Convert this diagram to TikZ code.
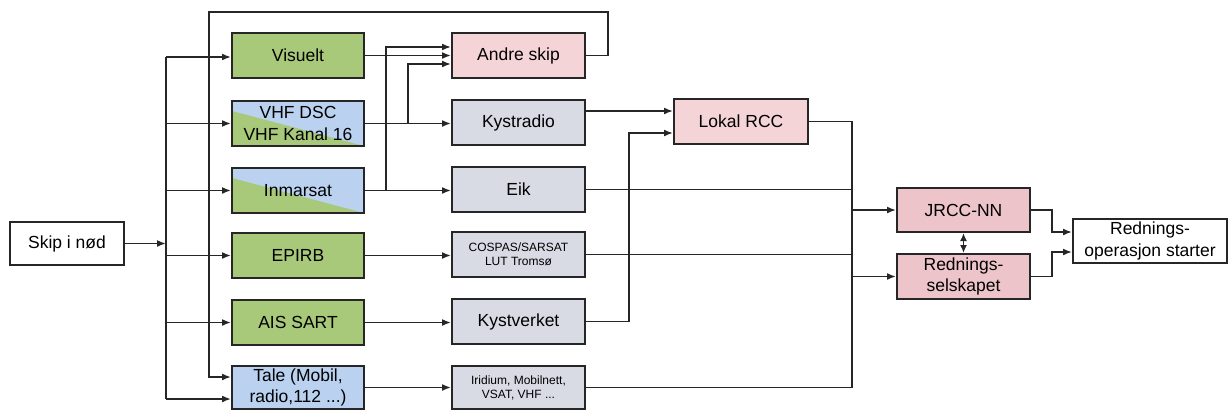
\documentclass[tikz,border=0pt]{standalone}
\usepackage{fontspec}
\setmainfont{Liberation Sans}
\usetikzlibrary{arrows.meta}
\definecolor{greenc}{RGB}{168,200,122}
\definecolor{bluec}{RGB}{186,210,240}
\definecolor{pinkc}{RGB}{245,212,216}
\definecolor{pinkd}{RGB}{236,196,201}
\definecolor{greyc}{RGB}{216,219,228}
\tikzset{
  box/.style={draw=black!85, line width=2pt, inner sep=0pt, align=center,
    minimum height=45pt, font=\fontsize{17.5}{21.5}\selectfont},
  colA/.style={box, minimum width=132pt},
  colB/.style={box, minimum width=133pt},
  greenbox/.style={colA, fill=greenc},
  diagbox/.style={colA, fill=bluec, path picture={
      \fill[greenc] ([yshift=-10pt]path picture bounding box.north west)
        -- (path picture bounding box.south west)
        -- (path picture bounding box.south east) -- cycle;}},
  greybox/.style={colB, fill=greyc},
  smalltext/.style={font=\fontsize{12}{14}\selectfont},
  ln/.style={draw=black!85, line width=1.7pt},
  arr/.style={ln, -{Latex[length=9pt,width=7pt]}},
  darr/.style={ln, {Latex[length=8pt,width=7pt]}-{Latex[length=8pt,width=7pt]}}
}
\begin{document}
\begin{tikzpicture}[x=1pt,y=-1pt]
\useasboundingbox (0,0) rectangle (1228,410);
% nodes
\node[box, minimum width=114pt, minimum height=43pt, fill=white] (skip) at (67,243.5) {Skip i nød};
\node[greenbox] (vis) at (298,55.5) {Visuelt};
\node[diagbox] (vhf) at (298,123.5) {VHF DSC\\VHF Kanal 16};
\node[diagbox] (inm) at (298,190.5) {Inmarsat};
\node[greenbox] (epirb) at (298,255.5) {EPIRB};
\node[greenbox] (ais) at (298,322.5) {AIS SART};
\node[colA, fill=bluec, minimum height=43pt] (tale) at (298,387.5) {Tale (Mobil,\\radio,112 ...)};
\node[colB, fill=pinkc] (andre) at (518.5,55.5) {Andre skip};
\node[greybox] (kyst) at (518.5,122.5) {Kystradio};
\node[greybox] (eik) at (518.5,189.5) {Eik};
\node[greybox, smalltext] (cos) at (518.5,254.5) {COSPAS/SARSAT\\LUT Tromsø};
\node[greybox] (kv) at (518.5,321.5) {Kystverket};
\node[greybox, smalltext, minimum height=43pt] (iri) at (518.5,387.5) {Iridium, Mobilnett,\\VSAT, VHF ...};
\node[box, minimum width=134pt, fill=pinkc] (rcc) at (741,121.5) {Lokal RCC};
\node[colB, fill=pinkd, minimum height=44pt] (jrcc) at (963.5,210) {JRCC-NN};
\node[colB, fill=pinkd] (red) at (963.5,276.5) {Rednings-\\selskapet};
\node[box, minimum width=154pt, minimum height=44pt, fill=white] (fin) at (1150,241) {Rednings-\\operasjon starter};
% left bus
\coordinate (bt) at (166,57);
\coordinate (bb) at (166,399);
\draw[ln] (bt) -- (bb);
\draw[arr] (skip.east) -- (skip.east -| bt);
\draw[arr] (bt) -- (vis.west |- bt);
\draw[arr] (bt |- vhf.west) -- (vhf.west);
\draw[arr] (bt |- inm.west) -- (inm.west);
\draw[arr] (bt |- epirb.west) -- (epirb.west);
\draw[arr] (bt |- ais.west) -- (ais.west);
\draw[arr] (bb) -- (tale.west |- bb);
% feedback from Andre skip
\coordinate (fb1) at (608,12);
\coordinate (fb2) at (209,12);
\coordinate (fb3) at (209,377);
\draw[arr] (andre.east) -| (fb1) -- (fb2) -- (fb3) -- (tale.west |- fb3);
% left column to middle column
\draw[arr] (vis.east) -- (andre.west);
\draw[arr] (vhf.east) -- (kyst.west |- vhf.east);
\draw[arr] (inm.east) -- (eik.west |- inm.east);
\coordinate (j1) at (386,190.5);
\coordinate (j2) at (408,123.5);
\draw[arr] (j1) -- (386,47) -- ([yshift=8.5pt]andre.west);
\draw[arr] (j2) -- (408,64) -- ([yshift=-8.5pt]andre.west);
\draw[arr] (epirb.east) -- (cos.west |- epirb.east);
\draw[arr] (ais.east) -- (kv.west |- ais.east);
\draw[arr] (tale.east) -- (iri.west);
% to Lokal RCC
\draw[arr] (kyst.east |- 0,111) -- (rcc.west |- 0,111);
\draw[arr] (kv.east) -- (629,321.5) -- (629,133) -- (rcc.west |- 0,133);
% right bus
\coordinate (rt) at (852,121.5);
\coordinate (rb) at (852,387.5);
\draw[ln] (rcc.east) -- (rt) -- (rb);
\draw[ln] (eik.east) -- (eik.east -| rt);
\draw[ln] (cos.east) -- (cos.east -| rt);
\draw[ln] (iri.east) -- (rb);
\draw[arr] (rt |- jrcc.west) -- (jrcc.west);
\draw[arr] (rt |- red.west) -- (red.west);
\draw[darr] (jrcc.south) -- (red.north);
% to final
\draw[arr] (jrcc.east) -- (1052,210) -- (1052,232) -- (fin.west |- 0,232);
\draw[arr] (red.east) -- (1052,276.5) -- (1052,252) -- (fin.west |- 0,252);
\end{tikzpicture}
\end{document}
